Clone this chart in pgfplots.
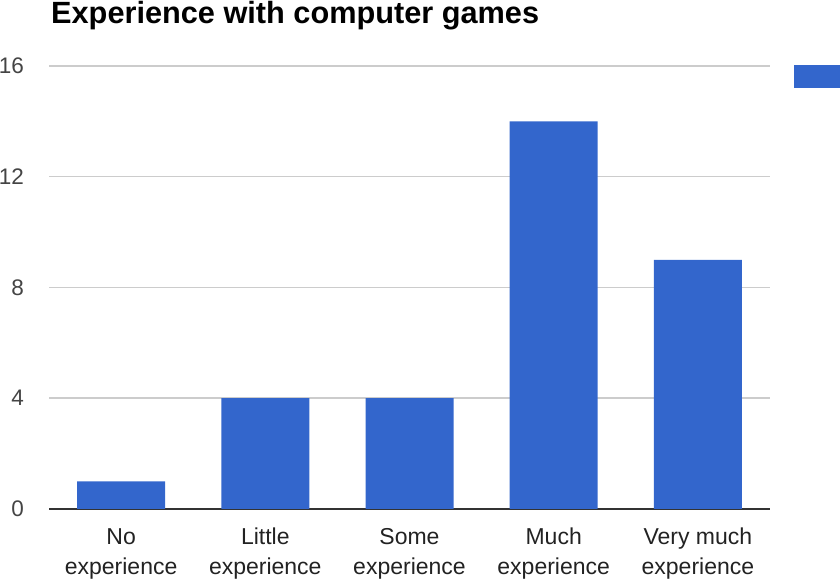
\documentclass[border=0pt]{standalone}
\usepackage{pgfplots}
\pgfplotsset{compat=1.18}
\usepackage{fontspec}
\setmainfont{Liberation Sans}
\definecolor{barblue}{HTML}{3366CC}
\definecolor{gridgray}{HTML}{CCCCCC}
\definecolor{axisdark}{HTML}{333333}
\definecolor{ylab}{HTML}{444444}
\definecolor{xlab}{HTML}{222222}
\newcommand{\tl}{\rule{0pt}{17pt}}
\begin{document}
\begin{tikzpicture}
\begin{axis}[
  at={(49pt,69pt)}, anchor=south west,
  scale only axis, width=721pt, height=443pt,
  ybar, bar width=88pt,
  xmin=-0.5, xmax=4.5, ymin=0, ymax=16,
  xtick=data,
  xticklabels={{\tl No\\experience},{\tl Little\\experience},{\tl Some\\experience},{\tl Much\\experience},{\tl Very much\\experience}},
  ytick={0,4,8,12,16},
  axis x line*=bottom, axis y line*=left,
  x axis line style={color=axisdark, line width=2pt, -},
  y axis line style={draw=none},
  ymajorgrids, grid style={color=gridgray, line width=1.5pt},
  major tick length=0pt,
  /pgf/number format/assume math mode=true,
  xticklabel style={align=center, anchor=north, inner sep=0pt, yshift=-18pt,
    font=\fontsize{23}{30}\selectfont, text=xlab},
  yticklabel style={anchor=east, inner sep=0pt, xshift=-25pt,
    font=\fontsize{22.5}{26}\selectfont, text=ylab},
  legend image code/.code={\fill[barblue] (0pt,-11.5pt) rectangle (60pt,11.5pt);},
  legend style={at={(1.0333,0.9763)}, anchor=west, draw=none, fill=none, inner sep=0pt, outer sep=0pt,
    nodes={inner sep=0pt}},
]
\addplot[fill=barblue, draw=none] coordinates {(0,1) (1,4) (2,4) (3,14) (4,9)};
\addlegendentry{}
\end{axis}
\node[anchor=base west, inner sep=0pt, font=\fontsize{30.7}{34}\selectfont\bfseries] at (51pt,554pt) {Experience with computer games};
\pgfresetboundingbox
\path[use as bounding box] (0,0) rectangle (840pt,578pt);
\end{tikzpicture}
\end{document}
